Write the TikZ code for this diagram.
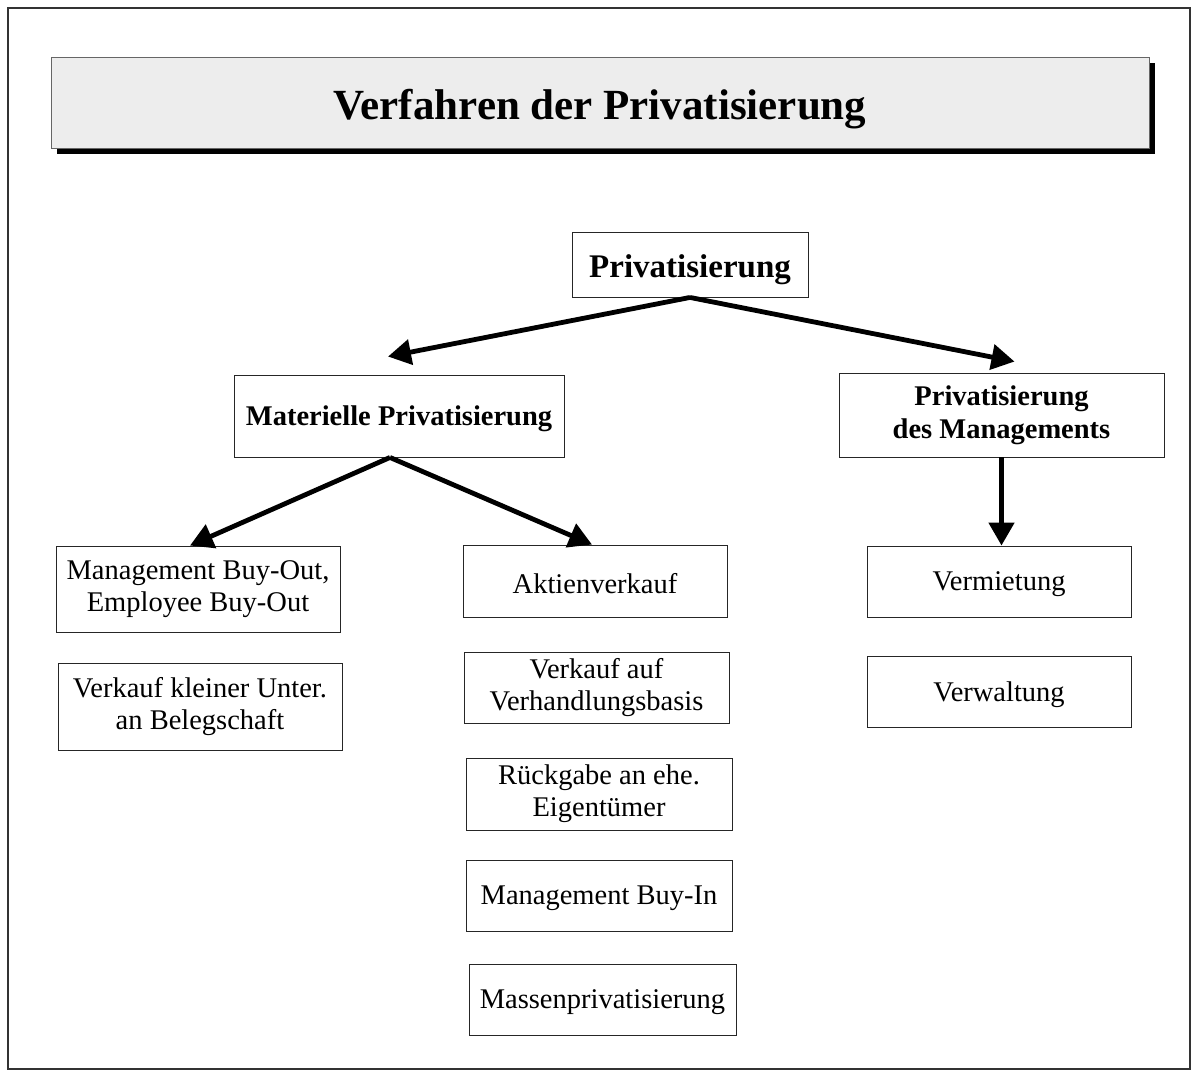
\documentclass[tikz,border=0pt]{standalone}
\usepackage{fontspec}
\setmainfont{Liberation Serif}
\usetikzlibrary{arrows.meta,positioning,shadows,calc}
\newcommand{\lowered}[2]{\raisebox{-#1}[\height][\depth]{#2}}

\begin{document}
\begin{tikzpicture}[
    x=1pt, y=-1pt,
    box/.style={rectangle, draw=black!85, line width=0.9pt, align=center, inner sep=2pt, font=\fontsize{28.5}{32}\selectfont},
    headbox/.style={box, font=\fontsize{28.5}{33}\selectfont\bfseries},
    arrow/.style={-{Triangle[length=23pt, width=25pt]}, line width=4.8pt}
]
\useasboundingbox (0,0) rectangle (1192,1071);
\draw[black!80, line width=1.5pt] (8,8) rectangle (1190,1069);

% Title
\node[rectangle, draw=black!60, line width=1pt, fill=black!7, minimum width=1098pt, minimum height=91pt,
      drop shadow={shadow xshift=6pt, shadow yshift=-6pt, fill=black, opacity=1},
      font=\fontsize{43}{50}\selectfont\bfseries] (title) at (600,102.5) {\lowered{7pt}{Verfahren der Privatisierung}};

% Level 1
\node[headbox, minimum width=236pt, minimum height=65pt, font=\fontsize{33}{38}\selectfont\bfseries] (priv) at (690,264.5) {\lowered{5pt}{Privatisierung}};

% Level 2
\node[headbox, minimum width=330pt, minimum height=82pt] (mat) at (399,416) {\lowered{3pt}{Materielle Privatisierung}};
\node[headbox, minimum width=325pt, minimum height=84pt] (mgmt) at (1001.5,415) {Privatisierung\\des Managements};

% Column 1
\node[box, minimum width=284pt, minimum height=86pt] (mbo) at (198,589) {Management Buy-Out,\\Employee Buy-Out};
\node[box, minimum width=284pt, minimum height=87pt] (klein) at (200,706.5) {Verkauf kleiner Unter.\\an Belegschaft};

% Column 2
\node[box, minimum width=264pt, minimum height=72pt] (aktie) at (595,581) {\lowered{3pt}{Aktienverkauf}};
\node[box, minimum width=265pt, minimum height=71pt] (verh) at (596.5,687.5) {Verkauf auf\\Verhandlungsbasis};
\node[box, minimum width=266pt, minimum height=72pt] (rueck) at (599,794) {Rückgabe an ehe.\\Eigentümer};
\node[box, minimum width=266pt, minimum height=71pt] (mbi) at (599,895.5) {\lowered{3pt}{Management Buy-In}};
\node[box, minimum width=267pt, minimum height=71pt] (masse) at (602.5,999.5) {\lowered{3pt}{Massenprivatisierung}};

% Column 3
\node[box, minimum width=264pt, minimum height=71pt] (verm) at (999,581.5) {\lowered{3pt}{Vermietung}};
\node[box, minimum width=264pt, minimum height=71pt] (verw) at (999,691.5) {\lowered{3pt}{Verwaltung}};

% Arrows
\draw[arrow] (priv.south) -- ($(mat.north)+(-11,-18)$);
\draw[arrow] (priv.south) -- ($(mgmt.north)+(13,-11)$);
\draw[arrow] ($(mat.south)+(-9,0)$) -- ($(mbo.north)+(-8,0)$);
\draw[arrow] ($(mat.south)+(-9,0)$) -- ($(aktie.north)+(-3,0)$);
\draw[arrow] (mgmt.south) -- (mgmt.south |- verm.north);

\end{tikzpicture}
\end{document}
